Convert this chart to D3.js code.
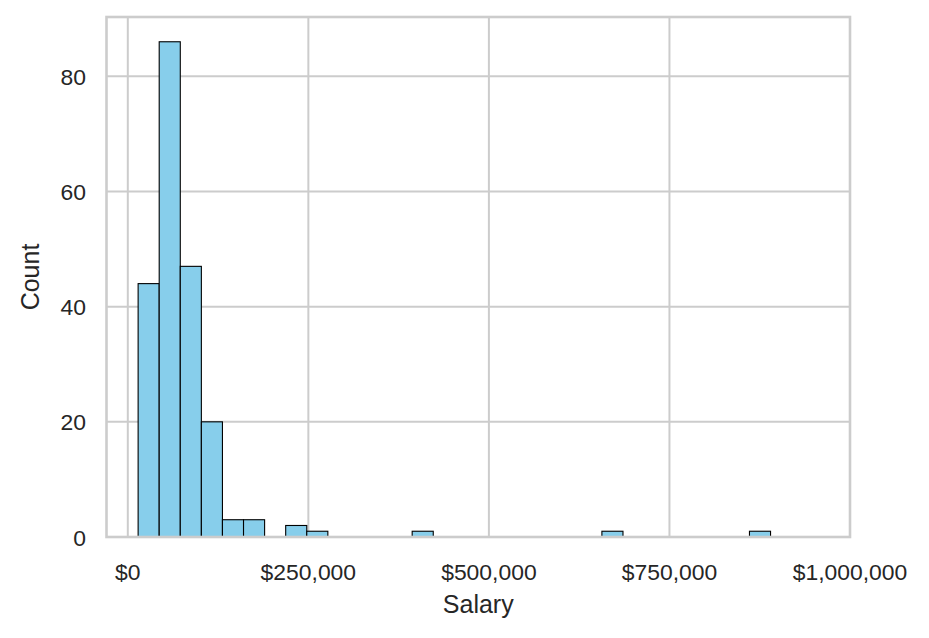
<!DOCTYPE html>
<html>
<head>
<meta charset="utf-8">
<script src="https://cdn.jsdelivr.net/npm/d3@7"></script>
<style>
  body { margin: 0; background: #fff; }
  svg text { font-family: "Liberation Sans", Arial, sans-serif; fill: #262626; }
</style>
</head>
<body>
<svg id="chart" width="929" height="638"></svg>
<script>
// histogram of salaries: 30 equal bins
var binStart = 14280;
var binWidth = 29190;
var counts = [44, 86, 47, 20, 3, 3, 0, 2, 1, 0,
              0, 0, 0, 1, 0, 0, 0, 0, 0, 0,
              0, 0, 1, 0, 0, 0, 0, 0, 0, 1];
var xTicks = [0, 250000, 500000, 750000, 1000000];
var yTicks = [0, 20, 40, 60, 80];

// plot area (window.top is read-only, so use other names)
var plotLeft = 106.5, plotRight = 850, plotTop = 17, plotBottom = 537;
var svg = d3.select("#chart");

var bins = counts.map(function(c, i) {
  return { x0: binStart + i * binWidth, x1: binStart + (i + 1) * binWidth, count: c };
});

var x = d3.scaleLinear()
  .domain([binStart - 0.05 * (bins[bins.length - 1].x1 - binStart), 1000000])
  .range([plotLeft, plotRight]);
var y = d3.scaleLinear()
  .domain([0, d3.max(counts) * 1.05])
  .range([plotBottom, plotTop]);

var money = d3.format("$,.0f");

// grid
svg.append("g").selectAll("line").data(xTicks).enter().append("line")
  .attr("x1", function(d) { return x(d); }).attr("x2", function(d) { return x(d); })
  .attr("y1", plotTop).attr("y2", plotBottom)
  .attr("stroke", "#cccccc").attr("stroke-width", 2);
svg.append("g").selectAll("line").data(yTicks).enter().append("line")
  .attr("x1", plotLeft).attr("x2", plotRight)
  .attr("y1", function(d) { return y(d); }).attr("y2", function(d) { return y(d); })
  .attr("stroke", "#cccccc").attr("stroke-width", 2);

// bars
svg.append("g").selectAll("rect").data(bins.filter(function(b) { return b.count > 0; }))
  .enter().append("rect")
  .attr("x", function(d) { return x(d.x0); })
  .attr("width", function(d) { return x(d.x1) - x(d.x0); })
  .attr("y", function(d) { return y(d.count); })
  .attr("height", function(d) { return y(0) - y(d.count); })
  .attr("fill", "#87ceeb")
  .attr("stroke", "#000").attr("stroke-width", 1.1);

// frame
svg.append("rect")
  .attr("x", plotLeft).attr("y", plotTop)
  .attr("width", plotRight - plotLeft).attr("height", plotBottom - plotTop)
  .attr("fill", "none").attr("stroke", "#cccccc").attr("stroke-width", 2.6);

// tick labels
svg.append("g").selectAll("text").data(xTicks).enter().append("text")
  .attr("x", function(d) { return x(d); })
  .attr("y", 580)
  .attr("text-anchor", "middle")
  .style("font-size", "22.9px")
  .text(function(d) { return money(d); });
svg.append("g").selectAll("text").data(yTicks).enter().append("text")
  .attr("x", 86)
  .attr("y", function(d) { return y(d) + 8.5; })
  .attr("text-anchor", "end")
  .style("font-size", "22.9px")
  .text(function(d) { return d; });

// axis labels
svg.append("text")
  .attr("x", (plotLeft + plotRight) / 2).attr("y", 613)
  .attr("text-anchor", "middle")
  .style("font-size", "25px")
  .text("Salary");
svg.append("text")
  .attr("transform", "translate(38.5," + (plotTop + plotBottom) / 2 + ") rotate(-90)")
  .attr("text-anchor", "middle")
  .style("font-size", "25px")
  .text("Count");
</script>
</body>
</html>
